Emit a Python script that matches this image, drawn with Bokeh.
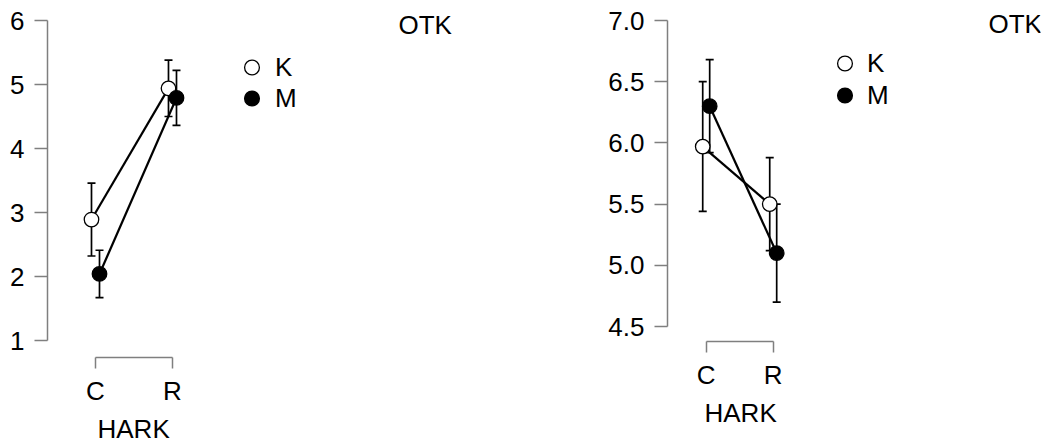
from bokeh.plotting import figure
from bokeh.models import (ColumnDataSource, Whisker, TeeHead, FixedTicker, Range1d,
                          Legend, LegendItem, Label, PrintfTickFormatter, Title)
from bokeh.layouts import row
from bokeh.embed import file_html
from bokeh.resources import INLINE

# ---------------- data ----------------
categories = ["C", "R"]
groups = ["K", "M"]
x_title = "HARK"
legend_title = "OTK"

# left panel
left_K_mean = [2.89, 4.94]
left_K_lower = [2.32, 4.50]
left_K_upper = [3.46, 5.38]
left_M_mean = [2.04, 4.79]
left_M_lower = [1.67, 4.36]
left_M_upper = [2.41, 5.22]
left_yticks = [1, 2, 3, 4, 5, 6]

# right panel
right_K_mean = [5.97, 5.50]
right_K_lower = [5.44, 5.12]
right_K_upper = [6.50, 5.88]
right_M_mean = [6.30, 5.10]
right_M_lower = [5.92, 4.70]
right_M_upper = [6.68, 5.50]
right_yticks = [4.5, 5.0, 5.5, 6.0, 6.5, 7.0]

FONT = "Liberation Sans"
FS = "26px"
AX = "#7f7f7f"
DODGE = 0.052


def panel(width, height, border_left, border_right, xr, yr,
          yticks, yfmt, series, leg_locs, leg_standoff, otk_xy, title_offset):
    p = figure(width=width, height=height, output_backend="svg", toolbar_location=None,
               x_range=Range1d(*xr), y_range=Range1d(*yr),
               min_border_left=border_left, min_border_right=border_right,
               min_border_top=0, min_border_bottom=91)
    p.outline_line_color = None
    p.xgrid.visible = False
    p.ygrid.visible = False
    p.background_fill_color = "white"
    p.border_fill_color = "white"

    # x axis
    xa = p.xaxis[0]
    xa.ticker = FixedTicker(ticks=list(range(len(categories))))
    xa.major_label_overrides = {i: c for i, c in enumerate(categories)}
    xa.bounds = (0, len(categories) - 1)
    xa.minor_tick_line_color = None
    xa.major_tick_in = 0
    xa.major_tick_out = 11
    xa.major_label_standoff = 7
    # y axis
    ya = p.yaxis[0]
    ya.ticker = FixedTicker(ticks=yticks)
    if yfmt:
        ya.formatter = PrintfTickFormatter(format=yfmt)
    ya.bounds = (yticks[0], yticks[-1])
    ya.minor_tick_line_color = None
    ya.major_tick_in = 0
    ya.major_tick_out = 13
    ya.major_label_standoff = 10
    for a in (xa, ya):
        a.axis_line_color = AX
        a.axis_line_width = 1.5
        a.major_tick_line_color = AX
        a.major_tick_line_width = 1.5
        a.major_label_text_font = FONT
        a.major_label_text_font_size = FS
        a.major_label_text_color = "black"

    # x-axis title, placed under the axis in the "below" panel
    p.add_layout(Title(text=x_title, align="left", offset=title_offset, standoff=7,
                       text_font=FONT, text_font_size=FS, text_font_style="normal",
                       text_color="black"), "below")

    renderers = {}
    for gi, (name, mean, lo, hi, fill) in enumerate(series):
        off = -DODGE if gi == 0 else DODGE
        xs = [i + off for i in range(len(categories))]
        src = ColumnDataSource(dict(x=xs, y=mean, lower=lo, upper=hi))
        p.line("x", "y", source=src, line_color="black", line_width=2.2)
        renderers[name] = (src, fill)
    for name, (src, fill) in renderers.items():
        w = Whisker(source=src, base="x", upper="upper", lower="lower", dimension="height",
                    line_color="black", line_width=1.7,
                    upper_head=TeeHead(size=8, line_color="black", line_width=1.7),
                    lower_head=TeeHead(size=8, line_color="black", line_width=1.7))
        p.add_layout(w)
    for (name, (src, fill)), loc in zip(renderers.items(), leg_locs):
        r = p.scatter("x", "y", source=src, size=14.5, marker="circle",
                      fill_color=fill, line_color="black", line_width=1.3)
        leg = Legend(items=[LegendItem(label=name, renderers=[r])], location=loc,
                     padding=0, margin=0, border_line_alpha=0, background_fill_alpha=0,
                     glyph_width=37, glyph_height=40, label_height=40,
                     spacing=0, label_standoff=leg_standoff,
                     label_text_font=FONT, label_text_font_size=FS,
                     label_text_color="black")
        p.add_layout(leg)

    p.add_layout(Label(x=otk_xy[0], y=otk_xy[1], x_units="screen", y_units="screen",
                       text=legend_title, text_font=FONT, text_font_size=FS,
                       text_align="left", text_baseline="alphabetic", text_color="black"))
    return p


p1 = panel(522, 448, 47, 7, (-0.6234, 5.455), (0.7344, 6.3125), left_yticks, None,
           [("K", left_K_mean, left_K_lower, left_K_upper, "white"),
            ("M", left_M_mean, left_M_lower, left_M_upper, "black")],
           [(186, 270), (186, 239)], 5, (351, 333), 50)

p2 = panel(522, 432, 145, 4, (-0.5776, 4.989), (4.3775, 7.1634), right_yticks, "%.1f",
           [("K", right_K_mean, right_K_lower, right_K_upper, "white"),
            ("M", right_M_mean, right_M_lower, right_M_upper, "black")],
           [(159, 258), (159, 226)], 4, (321, 318), 37)

layout = row(p1, p2)
open("out.html", "w").write(file_html(layout, INLINE))
